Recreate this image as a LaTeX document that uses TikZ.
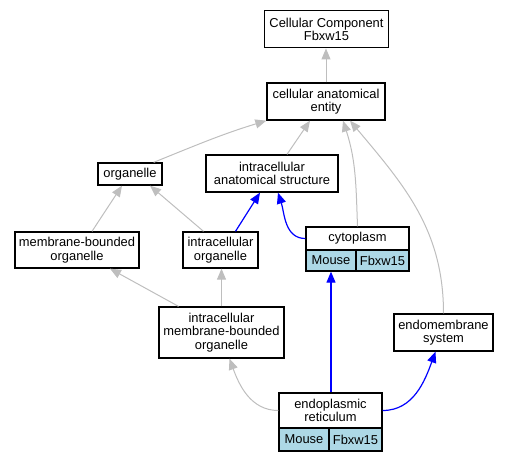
\documentclass[tikz,border=0pt]{standalone}
\usepackage{fontspec}
\setmainfont{Liberation Sans}
\usetikzlibrary{arrows.meta}
\definecolor{edgegray}{HTML}{BEBEBE}
\definecolor{cellblue}{HTML}{ADD8E6}

\begin{document}
\begin{tikzpicture}[x=1pt,y=1pt]
\tikzstyle{every node}+=[inner sep=0pt, font=\fontsize{12.9}{13.6}\selectfont]
\tikzstyle{term}=[draw=black, line width=1.3pt, fill=white, align=center]
\tikzstyle{cell}=[term, fill=cellblue]
\tikzstyle{isa}=[draw=edgegray, line width=1pt, -{Triangle[length=11pt,width=9pt]}]
\tikzstyle{partof}=[isa, draw=blue, line width=1.2pt]
\useasboundingbox (0,0) rectangle (509,-461);
\node [term, minimum width=124pt, minimum height=37pt] (cc) at (326.5,-29.3) {Cellular Component\\Fbxw15};
\node [term, minimum width=118pt, minimum height=37pt] (cae) at (326,-101.5) {cellular anatomical\\entity};
\node [term, minimum width=64pt, minimum height=22pt] (org) at (130,-174) {organelle};
\node [term, minimum width=132pt, minimum height=37pt] (ias) at (272,-173.5) {intracellular\\anatomical structure};
\node [term, minimum width=124pt, minimum height=36pt] (mbo) at (77,-250) {membrane-bounded\\organelle};
\node [term, minimum width=75pt, minimum height=36pt] (io) at (220.5,-250) {intracellular\\organelle};
\node [term, minimum width=103pt, minimum height=23pt] (cyto) at (357.5,-238.5) {cytoplasm};
\node [cell, minimum width=50pt, minimum height=21pt] (cytoM) at (331,-260.5) {Mouse};
\node [cell, minimum width=53pt, minimum height=21pt] (cytoF) at (382.5,-260.5) {Fbxw15};
\node [term, minimum width=125pt, minimum height=51pt] (imbo) at (221.5,-332.5) {intracellular\\membrane-bounded\\organelle};
\node [term, minimum width=99pt, minimum height=37pt] (endo) at (443.5,-332.5) {endomembrane\\system};
\node [term, minimum width=103pt, minimum height=35pt] (er) at (330.5,-410.5) {endoplasmic\\reticulum};
\node [cell, minimum width=50pt, minimum height=23pt] (erM) at (304,-439.5) {Mouse};
\node [cell, minimum width=53pt, minimum height=23pt] (erF) at (355.5,-439.5) {Fbxw15};
\draw [isa] (cae.north) -- (cae.north |- cc.south);
\draw [isa] ([xshift=-9pt]org.north east) to[out=22,in=197] (cae.south west);
\draw [isa] ([xshift=15pt]ias.north) -- ([xshift=-16pt]cae.south);
\draw [isa] (cyto.north) to[out=92,in=-72] ([xshift=17pt]cae.south);
\draw [isa] (endo.north) to[out=90,in=-50] ([xshift=24pt]cae.south);
\draw [isa] ([xshift=15pt]mbo.north) -- ([xshift=-8pt]org.south);
\draw [isa] ([xshift=-17pt]io.north) -- ([xshift=20pt]org.south);
\draw [partof] ([xshift=15pt]io.north) -- ([xshift=-12pt]ias.south);
\draw [partof] (cyto.west) to[out=180,in=-72] ([xshift=6pt]ias.south);
\draw [isa] ([xshift=-43pt]imbo.north) -- ([xshift=33pt]mbo.south);
\draw [isa] (imbo.north) -- (imbo.north |- io.south);
\draw [isa] (er.west) to[out=180,in=-70] ([xshift=8pt]imbo.south);
\draw [partof] (er.north -| cytoM.south) -- (cytoM.south);
\draw [partof] (er.east) to[out=0,in=-110] ([xshift=-8pt]endo.south);
\end{tikzpicture}
\end{document}
